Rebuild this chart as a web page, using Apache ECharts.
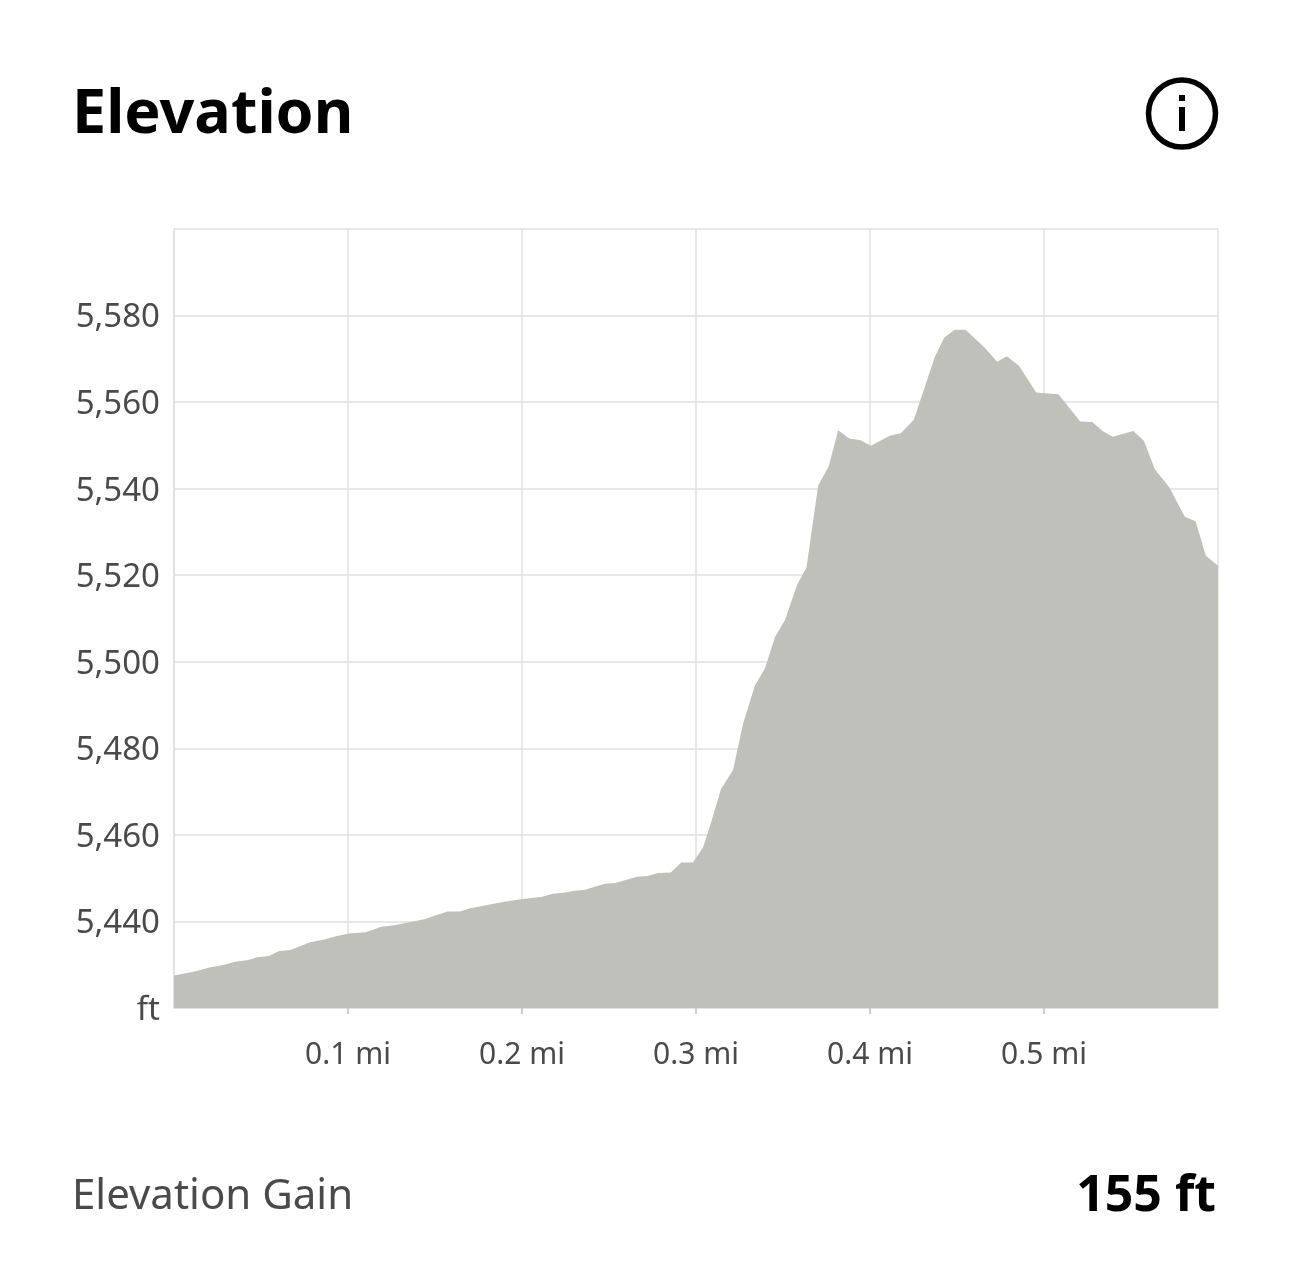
<!DOCTYPE html>
<html>
<head>
<meta charset="utf-8">
<title>Elevation</title>
<style>
  html, body { margin: 0; padding: 0; background: #fff; }
  #main { width: 1290px; height: 1273px; }
</style>
<script src="https://cdn.jsdelivr.net/npm/echarts@6/dist/echarts.min.js"></script>
</head>
<body>
<div id="main"></div>
<script>
// distance in miles, elevation in feet
var distanceMi = [0, 0.0125, 0.0197, 0.0289, 0.0351, 0.0429, 0.0478, 0.0546, 0.0601, 0.0669,
  0.0782, 0.0864, 0.0925, 0.1007, 0.11, 0.1192, 0.1274, 0.1439, 0.15, 0.1572,
  0.1644, 0.1695, 0.189, 0.1993, 0.2117, 0.2177, 0.225, 0.2301, 0.2362, 0.2475,
  0.2537, 0.266, 0.2721, 0.2783, 0.2855, 0.2916, 0.2982, 0.304, 0.308, 0.3144,
  0.3213, 0.327, 0.3339, 0.3397, 0.3454, 0.3511, 0.358, 0.3635, 0.3702, 0.3763,
  0.3817, 0.388, 0.3945, 0.4005, 0.4113, 0.4177, 0.4252, 0.4295, 0.4371, 0.4426,
  0.4486, 0.4549, 0.4658, 0.4731, 0.4786, 0.4856, 0.4955, 0.5083, 0.5208, 0.5277,
  0.534, 0.5396, 0.5513, 0.5574, 0.5637, 0.572, 0.5809, 0.5871, 0.593, 0.6];
var elevationFt = [5427.5, 5428.5, 5429.3, 5430, 5430.7, 5431.1, 5431.7, 5432, 5433.1, 5433.4,
  5435.2, 5435.8, 5436.5, 5437.2, 5437.5, 5438.8, 5439.2, 5440.5, 5441.4, 5442.3,
  5442.3, 5443, 5444.5, 5445.1, 5445.7, 5446.4, 5446.7, 5447.1, 5447.3, 5448.7,
  5448.9, 5450.3, 5450.5, 5451.2, 5451.3, 5453.6, 5453.6, 5457, 5462, 5470.6,
  5475, 5485.6, 5494.6, 5498.5, 5505.7, 5509.6, 5517.7, 5521.8, 5540.7, 5545.2,
  5553.5, 5551.6, 5551.2, 5549.9, 5552.2, 5552.8, 5555.9, 5561.1, 5570.3, 5574.9,
  5576.7, 5576.7, 5572.6, 5569.3, 5570.6, 5568.4, 5562.2, 5561.8, 5555.5, 5555.4,
  5553.2, 5552, 5553.3, 5551.1, 5544.5, 5540.3, 5533.5, 5532.5, 5524.5, 5522.2];

var fontName = '"Noto Sans", Roboto, sans-serif';
var gridColor = '#e1e1e3';

var pts = [];
for (var i = 0; i < distanceMi.length; i++) {
  pts.push([distanceMi[i], elevationFt[i]]);
}

var myChart = echarts.init(document.getElementById('main'));
var option = {
  backgroundColor: '#fff',
  animation: false,
  grid: { left: 174, right: 72, top: 229, bottom: 265 },
  xAxis: {
    type: 'value',
    min: 0,
    max: 0.6,
    interval: 0.1,
    axisLine: { show: true, lineStyle: { color: gridColor, width: 1.5 } },
    axisTick: { show: true, length: 6, lineStyle: { color: '#bdbdc0', width: 1.5 } },
    splitLine: { show: true, lineStyle: { color: gridColor, width: 1.5 } },
    axisLabel: {
      margin: 32,
      fontFamily: fontName,
      fontSize: 30,
      color: '#4a4a4a',
      showMinLabel: false,
      showMaxLabel: false,
      formatter: function (v) { return v.toFixed(1) + ' mi'; }
    }
  },
  yAxis: {
    type: 'value',
    min: 5420,
    max: 5600,
    interval: 20,
    axisLine: { show: true, lineStyle: { color: gridColor, width: 1.5 } },
    axisTick: { show: false },
    splitLine: { show: true, lineStyle: { color: gridColor, width: 1.5 } },
    axisLabel: {
      margin: 14,
      fontFamily: fontName,
      fontSize: 33,
      color: '#4a4a4a',
      rich: { v: { padding: [5, 0, 0, 0], fontFamily: fontName, fontSize: 33, color: '#4a4a4a' } },
      formatter: function (v) {
        if (v === 5420) return '{v|ft}';
        if (v === 5600) return '';
        return '{v|' + echarts.format.addCommas(v) + '}';
      }
    }
  },
  series: [{
    type: 'line',
    data: pts,
    showSymbol: false,
    smooth: false,
    lineStyle: { width: 0 },
    areaStyle: { color: '#bfc0b9', opacity: 1 }
  }],
  graphic: [
    { type: 'text', left: 72, top: 85, style: { text: 'Elevation', fontFamily: fontName, fontSize: 61, fontWeight: 700, fill: '#000' } },
    { type: 'circle', shape: { cx: 1182, cy: 113.5, r: 33.5 }, style: { fill: 'none', stroke: '#000', lineWidth: 5.5 } },
    { type: 'rect', shape: { x: 1179, y: 95, width: 6, height: 6 }, style: { fill: '#000' } },
    { type: 'rect', shape: { x: 1179, y: 107, width: 6, height: 24 }, style: { fill: '#000' } },
    { type: 'text', left: 72, top: 1176, style: { text: 'Elevation Gain', fontFamily: fontName, fontSize: 42, fill: '#4a4a4a' } },
    { type: 'text', right: 74, top: 1172, style: { text: '155 ft', fontFamily: fontName, fontSize: 50, fontWeight: 700, fill: '#000' } }
  ]
};
myChart.setOption(option);
</script>
</body>
</html>
